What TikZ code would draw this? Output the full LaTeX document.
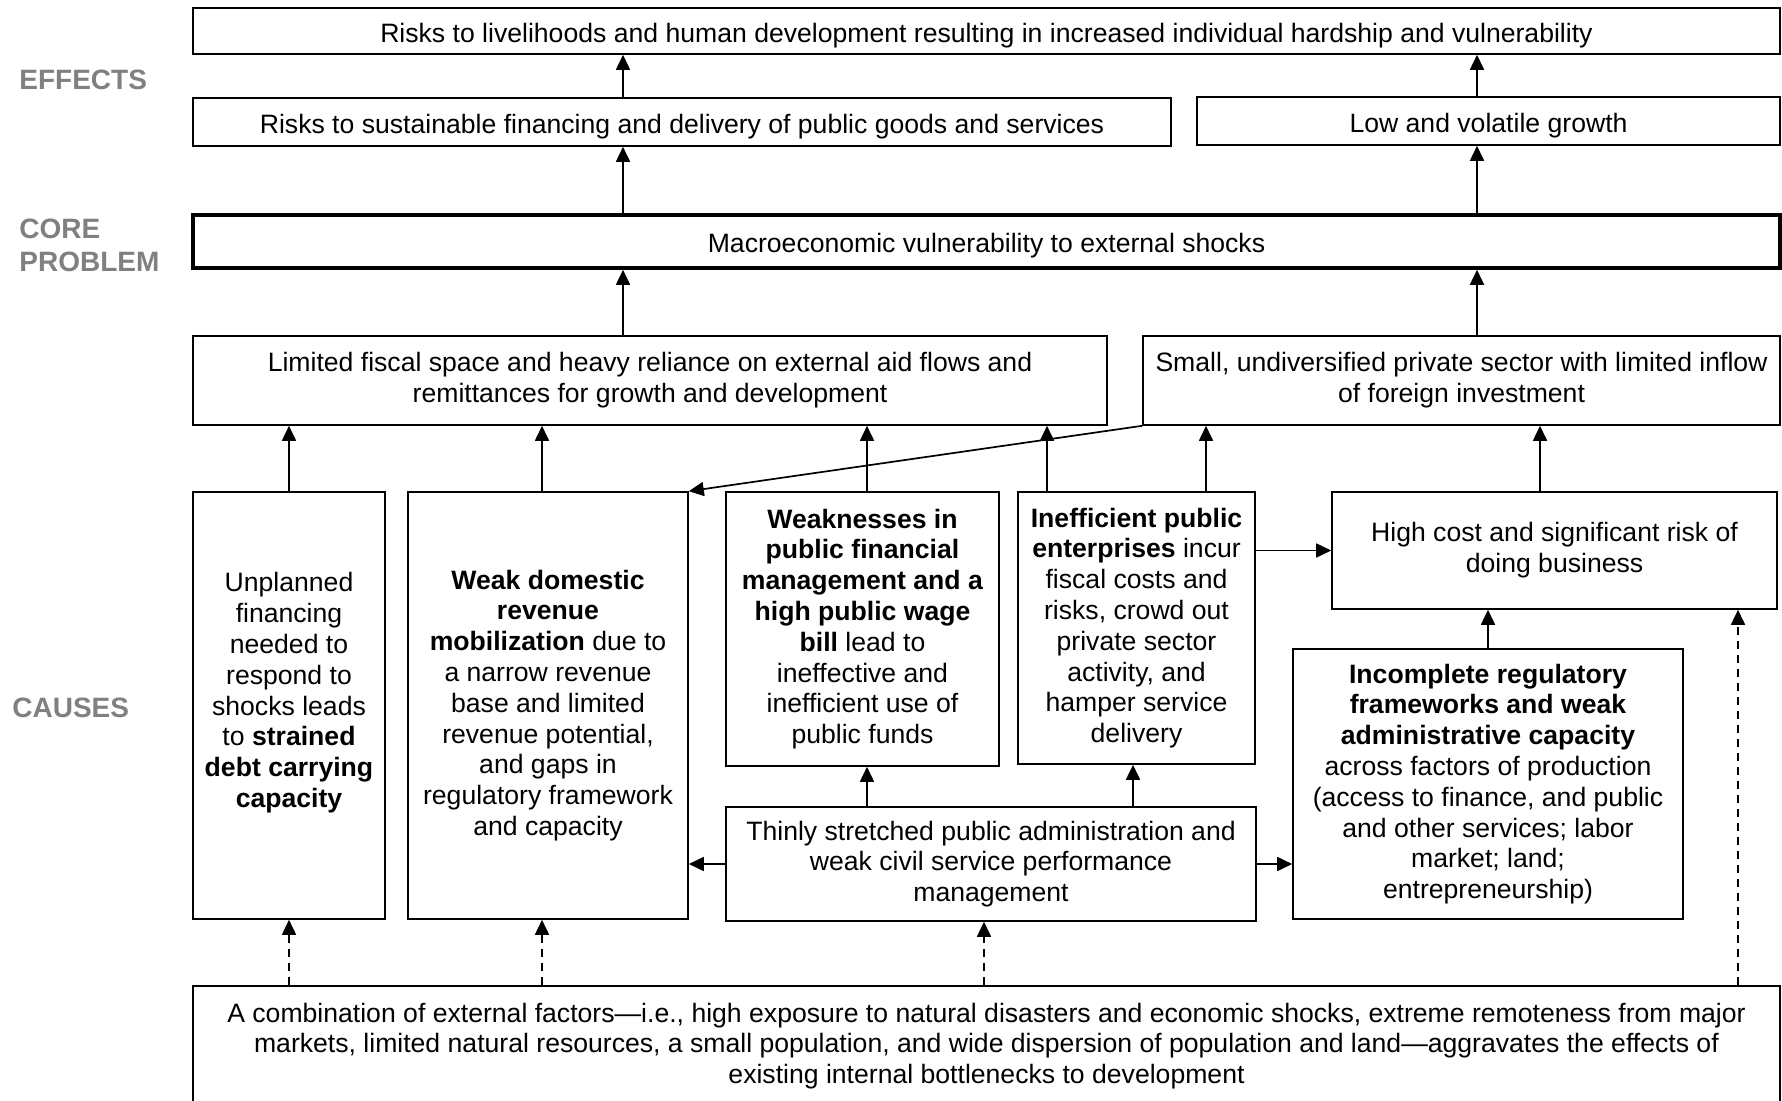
\documentclass[tikz,border=0pt]{standalone}
\usepackage{fontspec}
\setmainfont{Liberation Sans}
\usetikzlibrary{arrows.meta}
\definecolor{labelgray}{RGB}{128, 128, 128}

\begin{document}
\begin{tikzpicture}[
    x=0.5pt, y=-0.5pt,
    box/.style={draw, line width=0.8pt, inner sep=0pt, align=center,
                font=\fontsize{13.3}{15.4}\selectfont},
    single/.style={box, text height=11.4pt, text depth=0pt},
    corebox/.style={single, line width=1.8pt},
    lbl/.style={anchor=west, inner sep=0pt, align=left, text=labelgray,
                font=\fontsize{14}{16.5}\selectfont\bfseries},
    arr/.style={-{Triangle[width=7pt,length=7.5pt]}, line width=0.85pt},
    darr/.style={arr, dash pattern=on 4pt off 3pt},
]
\clip (0,0) rectangle (1782,1101);

\node[lbl] (effects)  at (19,80)    {EFFECTS};
\node[lbl] (coreprob) at (19,245.5) {CORE\\PROBLEM};
\node[lbl] (causes)   at (12,707.5) {CAUSES};

\node[single, minimum width=793.5pt, minimum height=23pt] (top)  at (986.5,31)  {Risks to livelihoods and human development resulting in increased individual hardship and vulnerability};
\node[single, minimum width=489pt, minimum height=24pt]   (sust) at (682,122)   {Risks to sustainable financing and delivery of public goods and services};
\node[single, minimum width=291.5pt, minimum height=24pt] (low)  at (1488.5,121) {Low and volatile growth};
\node[corebox, minimum width=793.5pt, minimum height=26.5pt] (core) at (986.5,241.5) {Macroeconomic vulnerability to external shocks};

\node[box, minimum width=457pt, minimum height=44.5pt]   (lim)   at (650,380.5)    {Limited fiscal space and heavy reliance on external aid flows and\\remittances for growth and development};
\node[box, minimum width=318.5pt, minimum height=44.5pt] (small) at (1461.5,380.5) {Small, undiversified private sector with limited inflow\\of foreign investment};

\node[box, minimum width=96pt, minimum height=213.5pt]  (unpl) at (289,705.5) {Unplanned\\financing\\needed to\\respond to\\shocks leads\\to \textbf{strained}\\\textbf{debt carrying}\\\textbf{capacity}\\\mbox{}};
\node[box, minimum width=140pt, minimum height=213.5pt] (wdrm) at (548,705.5) {\textbf{Weak domestic}\\\textbf{revenue}\\\textbf{mobilization} due to\\a narrow revenue\\base and limited\\revenue potential,\\and gaps in\\regulatory framework\\and capacity};
\node[box, minimum width=136.5pt, minimum height=137pt] (pfm)  at (862.5,629) {\textbf{Weaknesses in}\\\textbf{public financial}\\\textbf{management and a}\\\textbf{high public wage}\\\textbf{bill} lead to\\ineffective and\\inefficient use of\\public funds};
\node[box, minimum width=118.5pt, minimum height=136pt] (pe)   at (1136.5,628) {\textbf{Inefficient public}\\\textbf{enterprises} incur\\fiscal costs and\\risks, crowd out\\private sector\\activity, and\\hamper service\\delivery};
\node[box, minimum width=222.5pt, minimum height=58.5pt] (cost) at (1554.5,550.5) {High cost and significant risk of\\doing business};
\node[box, minimum width=195pt, minimum height=135pt]   (incr) at (1488,784) {\textbf{Incomplete regulatory}\\\textbf{frameworks and weak}\\\textbf{administrative capacity}\\across factors of production\\(access to finance, and public\\and other services; labor\\market; land;\\entrepreneurship)};
\node[box, minimum width=265pt, minimum height=57pt]    (thin) at (991,864) {Thinly stretched public administration and\\weak civil service performance\\management};

\node[box, minimum width=793.5pt, minimum height=60pt] (ext) at (986.5,1046) {A combination of external factors—i.e., high exposure to natural disasters and economic shocks, extreme remoteness from major\\markets, limited natural resources, a small population, and wide dispersion of population and land—aggravates the effects of\\existing internal bottlenecks to development};

\coordinate (colL) at (623,0);
\coordinate (colR) at (1477,0);
\coordinate (colW) at (542,0);
\coordinate (colP) at (867,0);
\coordinate (colE) at (1047,0);
\coordinate (colS) at (1206,0);
\coordinate (colQ) at (1133,0);
\coordinate (colC) at (1540,0);
\coordinate (colT) at (984,0);
\coordinate (colD) at (1738,0);

\draw[arr] (sust.north -| colL) -- (top.south -| colL);
\draw[arr] (low.north -| colR)  -- (top.south -| colR);
\draw[arr] (core.north -| colL) -- (sust.south -| colL);
\draw[arr] (core.north -| colR) -- (low.south -| colR);
\draw[arr] (lim.north -| colL)  -- (core.south -| colL);
\draw[arr] (small.north -| colR) -- (core.south -| colR);

\draw[arr] (unpl.north) -- (unpl.north |- lim.south);
\draw[arr] (wdrm.north -| colW) -- (lim.south -| colW);
\draw[arr] (pfm.north -| colP)  -- (lim.south -| colP);
\draw[arr] (pe.north -| colE)   -- (lim.south -| colE);
\draw[arr] (pe.north -| colS)   -- (small.south -| colS);
\draw[arr] (small.south west)   -- (wdrm.north east);
\draw[arr] (cost.north -| colC) -- (small.south -| colC);
\draw[arr] (pe.east |- cost.west) -- (cost.west);
\draw[arr] (incr.north) -- (incr.north |- cost.south);

\draw[arr] (thin.north -| colP) -- (pfm.south -| colP);
\draw[arr] (thin.north -| colQ) -- (pe.south -| colQ);
\draw[arr] (thin.west) -- (thin.west -| wdrm.east);
\draw[arr] (thin.east) -- (thin.east -| incr.west);

\draw[darr] (ext.north -| unpl.south) -- (unpl.south);
\draw[darr] (ext.north -| colW) -- (wdrm.south -| colW);
\draw[darr] (ext.north -| colT) -- (thin.south -| colT);
\draw[darr] (ext.north -| colD) -- (cost.south -| colD);
\end{tikzpicture}
\end{document}
